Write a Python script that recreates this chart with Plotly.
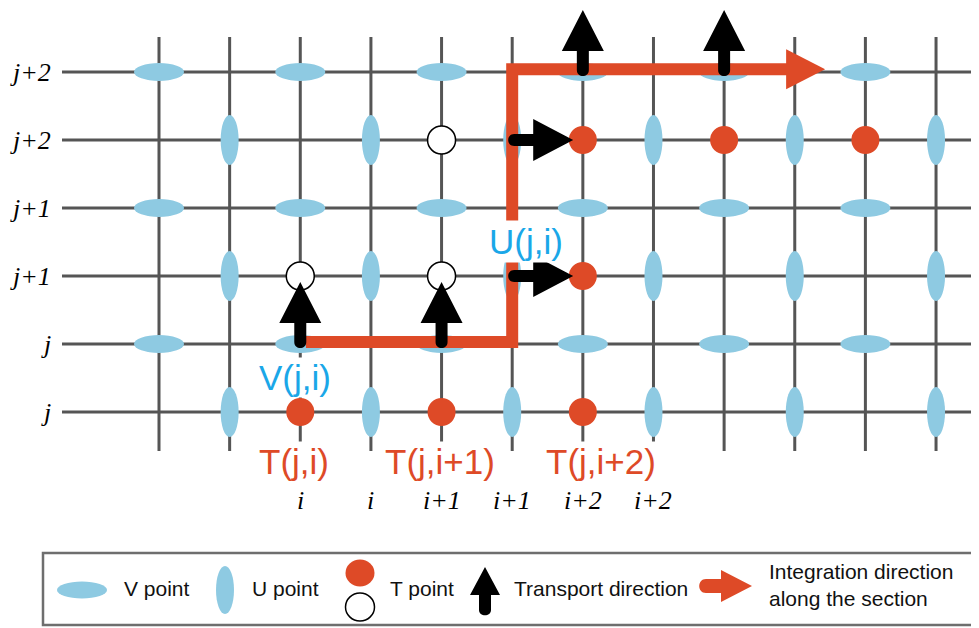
import plotly.graph_objects as go

# the page body adds an 8px margin, so the figure is drawn 8px smaller
OFF = 8
W, H = 979 - OFF, 628 - OFF

# grid nodes: 12 columns (i direction), 6 rows (j direction, top to bottom)
COLS = list(range(12))
ROWS = list(range(6))
ROW_LABELS = ["j+2", "j+2", "j+1", "j+1", "j", "j"]
COL_LABEL_POS = [2, 3, 4, 5, 6, 7]
COL_LABELS = ["i", "i", "i+1", "i+1", "i+2", "i+2"]

# staggered grid points
V_ROWS = [0, 2, 4]
V_COLS = [0, 2, 4, 6, 8, 10]
U_ROWS = [1, 3, 5]
U_COLS = [1, 3, 5, 7, 9, 11]
T_FILLED_COL = [2, 4, 6, 6, 6, 8, 10]
T_FILLED_ROW = [5, 5, 5, 3, 1, 1, 1]
T_OPEN_COL = [2, 4, 4]
T_OPEN_ROW = [3, 3, 1]

# transport arrows
UP_COL = [2, 4, 6, 8]
UP_ROW = [4, 4, 0, 0]
RIGHT_COL = [5, 5]
RIGHT_ROW = [3, 1]

# integration path along the section
SECTION_X = [2.08, 5.0, 5.0, 8.9]
SECTION_Y = [3.97, 3.97, -0.04, -0.04]
SECTION_TIP = 9.43

T_LABELS = ["T(j,i)", "T(j,i+1)", "T(j,i+2)"]
T_LABEL_COL = [2, 4, 6]

LIGHT_BLUE = "#8ecae2"
RED = "#de4a27"
TEXT_BLUE = "#1aa7e8"
GRID = "#555555"

# pixel scale of one grid step
X0, DX = 159 - OFF, 70.64
Y0, DY = 72 - OFF, 68


def ellipse(x, y, w, h, fill, ref=("x", "y"), line=None):
    return dict(type="circle", xref=ref[0], yref=ref[1],
                xsizemode="pixel", ysizemode="pixel", xanchor=x, yanchor=y,
                x0=-w / 2, x1=w / 2, y0=-h / 2, y1=h / 2,
                fillcolor=fill, line=line or dict(width=0), layer="above")


def glyph(x, y, path, color, ref=("x", "y")):
    return dict(type="path", xref=ref[0], yref=ref[1],
                xsizemode="pixel", ysizemode="pixel", xanchor=x, yanchor=y,
                path=path, fillcolor=color, line=dict(width=0), layer="above")


UP_PATH = "M -6,21 L -6,2 C -6,-6 6,-6 6,2 L 6,21 L 21,21 L 0,62 L -21,21 Z"
RIGHT_PATH = "M 21,6 L 2,6 C -6,6 -6,-6 2,-6 L 21,-6 L 21,21 L 61,0 L 21,-21 Z"

shapes = []
for c in COLS:
    shapes.append(dict(type="line", xref="x", yref="y", x0=c, x1=c,
                       y0=-0.515, y1=5.574, line=dict(color=GRID, width=3), layer="above"))
for r in ROWS:
    shapes.append(dict(type="line", xref="x", yref="y", x0=-1.373, x1=11.8,
                       y0=r, y1=r, line=dict(color=GRID, width=3), layer="above"))

for r in V_ROWS:
    for c in V_COLS:
        shapes.append(ellipse(c, r, 50, 18, LIGHT_BLUE))
for r in U_ROWS:
    for c in U_COLS:
        shapes.append(ellipse(c, r, 18, 50, LIGHT_BLUE))
for c, r in zip(T_FILLED_COL, T_FILLED_ROW):
    shapes.append(ellipse(c, r, 28, 28, RED))
for c, r in zip(T_OPEN_COL, T_OPEN_ROW):
    shapes.append(ellipse(c, r, 28, 28, "white", line=dict(color="black", width=1.5)))

section = "M " + " L ".join(f"{x},{y}" for x, y in zip(SECTION_X, SECTION_Y))
shapes.append(dict(type="path", xref="x", yref="y", path=section,
                   line=dict(color=RED, width=12), layer="above"))
shapes.append(glyph(SECTION_TIP, SECTION_Y[-1], "M -39,-20 L 0,0 L -39,20 Z", RED))

for c, r in zip(UP_COL, UP_ROW):
    shapes.append(glyph(c, r, UP_PATH, "black"))
for c, r in zip(RIGHT_COL, RIGHT_ROW):
    shapes.append(glyph(c, r, RIGHT_PATH, "black"))


# legend box and glyphs (paper coords from screen pixels)
def px(x):
    return (x - OFF) / W


def py(y):
    return 1 - (y - OFF) / H


P = ("paper", "paper")
shapes.append(dict(type="rect", xref="paper", yref="paper", x0=px(43), x1=px(995),
                   y0=py(553), y1=py(625), line=dict(color="#6e6e6e", width=2.5),
                   fillcolor="white", layer="above"))
shapes.append(ellipse(px(82), py(590), 50, 17, LIGHT_BLUE, ref=P))
shapes.append(ellipse(px(225), py(590), 18, 48, LIGHT_BLUE, ref=P))
shapes.append(ellipse(px(360), py(573), 29, 27, RED, ref=P))
shapes.append(ellipse(px(360), py(607), 29, 28, "white", ref=P, line=dict(color="black", width=1.5)))
shapes.append(glyph(px(485), py(612),
                    "M -6,17 L -6,2 C -6,-5 6,-5 6,2 L 6,17 L 15,17 L 0,45 L -15,17 Z", "black", ref=P))
shapes.append(glyph(px(704), py(586),
                    "M 17,7 L 2,7 C -7,7 -7,-7 2,-7 L 17,-7 L 17,16 L 48,0 L 17,-16 Z", RED, ref=P))

annotations = []
serif = dict(family="Liberation Serif, Times New Roman, serif", size=26, color="black")
sans = "Liberation Sans, Arial, Helvetica, sans-serif"

for r, lab in enumerate(ROW_LABELS):
    annotations.append(dict(x=(53 - OFF - X0) / DX, y=r, xref="x", yref="y", text=f"<i>{lab}</i>",
                            showarrow=False, xanchor="right", yanchor="middle", font=serif))
for c, lab in zip(COL_LABEL_POS, COL_LABELS):
    annotations.append(dict(x=c, y=5, xref="x", yref="y", text=f"<i>{lab}</i>", yshift=-88,
                            showarrow=False, xanchor="center", yanchor="middle", font=serif))

t_shift = [-6, -2, 18]
for c, lab, s in zip(T_LABEL_COL, T_LABELS, t_shift):
    annotations.append(dict(x=c, y=5, xref="x", yref="y", text=lab, xshift=s, yshift=-49,
                            showarrow=False, font=dict(family=sans, size=35, color=RED),
                            bgcolor="white", borderpad=0))
annotations.append(dict(x=2, y=4, xref="x", yref="y", text="V(j,i)", xshift=-5, yshift=-33,
                        showarrow=False, font=dict(family=sans, size=35, color=TEXT_BLUE),
                        bgcolor="white", borderpad=0))
annotations.append(dict(x=5, y=2, xref="x", yref="y", text="U(j,i)", xshift=14, yshift=-33,
                        showarrow=False, font=dict(family=sans, size=35, color=TEXT_BLUE),
                        bgcolor="white", borderpad=1))

legend_font = dict(family=sans, size=21, color="#111111")
for x, txt in [(122, "V point"), (250, "U point"), (388, "T point"), (512, "Transport direction")]:
    annotations.append(dict(x=px(x), y=py(588), xref="paper", yref="paper", text=txt,
                            showarrow=False, xanchor="left", yanchor="middle", font=legend_font))
annotations.append(dict(x=px(767), y=py(585), xref="paper", yref="paper",
                        text="Integration direction<br>along the section", align="left",
                        showarrow=False, xanchor="left", yanchor="middle", font=legend_font))

fig = go.Figure()
fig.update_layout(
    width=W, height=H, autosize=False,
    margin=dict(l=0, r=0, t=0, b=0, pad=0),
    paper_bgcolor="white", plot_bgcolor="white",
    xaxis=dict(range=[-X0 / DX, (W - X0) / DX], visible=False, fixedrange=True),
    yaxis=dict(range=[(H - Y0) / DY, -Y0 / DY], visible=False, fixedrange=True),
    shapes=shapes, annotations=annotations, showlegend=False,
)
fig.write_html("out.html")
